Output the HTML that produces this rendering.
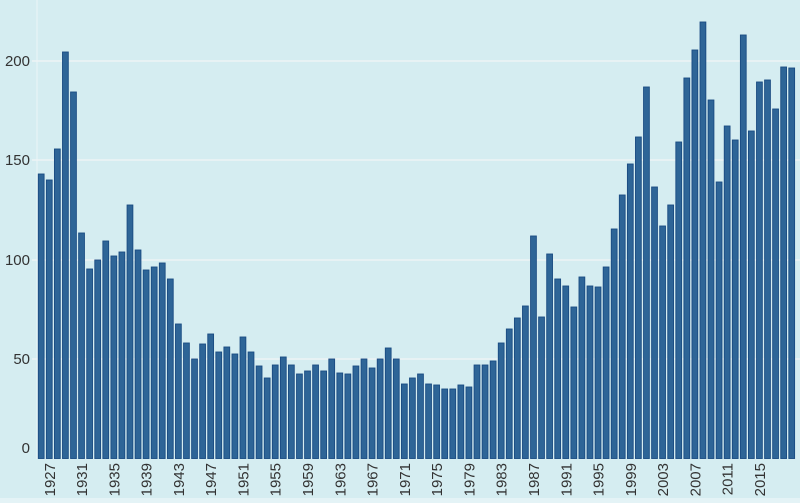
<!DOCTYPE html>
<html><head><meta charset="utf-8"><style>
html,body{margin:0;padding:0;background:#d5edf1;}
svg{display:block;font-family:"Liberation Sans","DejaVu Sans",sans-serif;}
</style></head><body>
<svg id="c" width="800" height="503" xmlns="http://www.w3.org/2000/svg">
<rect width="800" height="503" fill="#d5edf1"/>
<rect y="498" width="800" height="5" fill="#e4f3f6"/>
<line x1="37" y1="0" x2="37" y2="459" stroke="#eaf5f7" stroke-width="1"/>
<g stroke="#edf4f5" stroke-width="1.5">
<line x1="32" y1="61" x2="800" y2="61"/>
<line x1="32" y1="160" x2="800" y2="160"/>
<line x1="32" y1="260" x2="800" y2="260"/>
<line x1="32" y1="359" x2="800" y2="359"/>
</g>
<g font-size="15" fill="#333" text-anchor="end">
<text x="30" y="66">200</text>
<text x="30" y="165">150</text>
<text x="30" y="265">100</text>
<text x="30" y="364">50</text>
<text x="30" y="453">0</text>
</g>
<g id="bars"></g>
<g id="labels" font-size="15" fill="#333"></g>
</svg>
<script>
var tops=[174,180,149,52,92,233,269,260,241,256,252,205,250,270,267,263,279,324,343,359,344,334,352,347,354,337,352,366,378,365,357,365,374,371,365,371,359,373,374,366,359,368,359,348,359,384,378,374,384,385,389,389,385,387,365,365,361,343,329,318,306,236,317,254,279,286,307,277,286,287,267,229,195,164,137,87,187,226,205,142,78,50,22,100,182,126,140,35,131,82,80,109,67,68];
var base=458.5,p=8.07,x0=38.3,w=5.8,s='';
for(var i=0;i<tops.length;i++){var x=x0+i*p;s+='<rect x="'+x.toFixed(2)+'" y="'+tops[i]+'" width="'+w+'" height="'+(base-tops[i]).toFixed(1)+'" fill="#2e6597" stroke="#1a4b82" stroke-width="0.9"/>';}
document.getElementById('bars').innerHTML=s;
var l='';
for(var y=1927;y<=2015;y+=4){var i=y-1926;var cx=x0+i*p+w/2+5.5;l+='<text transform="translate('+cx.toFixed(1)+',463) rotate(-90)" text-anchor="end">'+y+'</text>';}
document.getElementById('labels').innerHTML=l;
</script>
</body></html>
